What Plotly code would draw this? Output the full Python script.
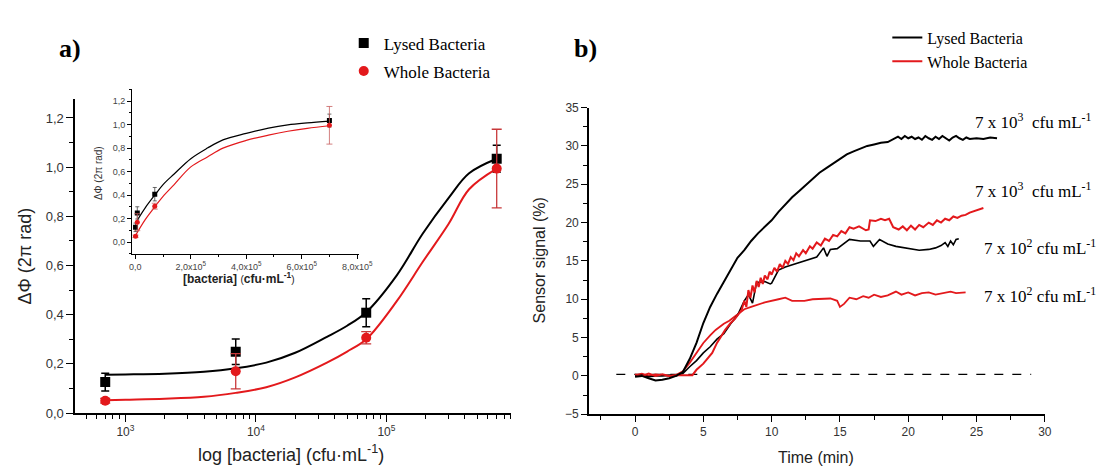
import plotly.graph_objects as go

# ---------------- Panel a data ----------------
conc = [7e2, 7e3, 7e4, 7e5]
lysed_y = [0.126, 0.249, 0.408, 1.034]
lysed_err = [0.036, 0.052, 0.057, 0.055]
whole_y = [0.050, 0.170, 0.306, 0.994]
whole_err = [0.010, 0.072, 0.025, 0.160]

# fitted curves (main, log axis)
fit_x = [7e2, 1e3, 2e3, 4e3, 7e3, 1.2e4, 2e4, 3.5e4, 5e4, 7e4, 1.2e5, 1.9e5, 3e5, 4.3e5, 7e5]
fit_lysed = [0.156, 0.157, 0.160, 0.168, 0.182, 0.205, 0.245, 0.310, 0.355, 0.410, 0.560, 0.730, 0.875, 0.975, 1.034]
fit_whole = [0.052, 0.054, 0.058, 0.066, 0.082, 0.105, 0.145, 0.205, 0.250, 0.300, 0.455, 0.615, 0.770, 0.910, 0.994]

# inset fitted curves (linear axis)
inset_fit_x = [0, 3.5e4, 7e4, 1e5, 1.4e5, 2e5, 2.6e5, 3.16e5, 4e5, 4.8e5, 5.5e5, 6.2e5, 7e5]
inset_fit_lysed = [0.160, 0.290, 0.400, 0.490, 0.580, 0.710, 0.800, 0.870, 0.925, 0.970, 0.998, 1.015, 1.030]
inset_fit_whole = [0.055, 0.190, 0.300, 0.390, 0.490, 0.640, 0.725, 0.800, 0.865, 0.910, 0.943, 0.968, 0.990]

# ---------------- Panel b data ----------------
t_lysed_hi = [0, 0.5, 1.0, 1.5, 2.0, 2.5, 3.0, 3.5, 4.0, 4.5, 5.0, 5.5, 6.0, 6.5, 7.0, 7.5, 8.0,
              8.5, 9.0, 9.5, 10, 10.5, 11, 11.5, 12, 12.5, 13, 13.5, 14, 14.5, 15, 15.5, 16, 16.5,
              17, 17.5, 18, 18.5, 19, 19.25, 19.5, 19.75, 20, 20.25, 20.5, 20.75, 21, 21.25, 21.5,
              21.75, 22, 22.25, 22.5, 22.75, 23, 23.25, 23.5, 23.75, 24, 24.25, 24.5, 25, 25.5, 26, 26.5]
v_lysed_hi = [-0.1, 0.0, -0.3, -0.6, -0.5, -0.3, 0.0, 0.5, 2.2, 4.3, 6.9, 9.0, 10.7, 12.3, 13.9,
              15.4, 16.4, 17.6, 18.6, 19.5, 20.3, 21.4, 22.4, 23.3, 24.1, 24.9, 25.7, 26.5, 27.1,
              27.7, 28.3, 28.9, 29.3, 29.7, 30.0, 30.2, 30.4, 30.5, 30.9, 31.2, 30.9, 31.3, 31.0,
              31.2, 30.9, 31.1, 30.8, 31.3, 31.0, 30.8, 31.2, 30.9, 31.3, 31.0, 30.7, 31.1, 31.3,
              31.0, 30.8, 31.1, 30.9, 31.0, 30.9, 31.1, 31.0]

t_whole_hi = [0, 0.5, 1.0, 1.5, 2.0, 2.5, 3.0, 3.5, 4.2, 4.5, 5.0, 5.65, 6.0, 6.6, 7.0, 7.3, 7.57,
              7.8, 8.0, 8.15, 8.3, 8.45, 8.6, 8.75, 8.9, 9.05, 9.2, 9.35, 9.5, 9.7, 9.85, 10.0, 10.2,
              10.4, 10.6, 10.8, 11.0, 11.2, 11.4, 11.6, 11.8, 12.0, 12.3, 12.5, 12.8, 13.0, 13.3,
              13.6, 13.9, 14.2, 14.5, 14.8, 15.1, 15.4, 15.7, 16.0, 16.4, 16.9, 17.1, 17.2, 17.6,
              18.0, 18.3, 18.6, 18.9, 19.3, 19.6, 19.9, 20.2, 20.5, 20.8, 21.1, 21.5, 21.8, 22.1,
              22.4, 22.7, 23.0, 23.3, 23.6, 23.9, 24.2, 24.5, 24.9, 25.2, 25.5]
v_whole_hi = [0.2, 0.0, 0.3, 0.0, 0.2, 0.0, 0.1, 0.1, 0.1, 0.8, 1.6, 3.0, 4.3, 6.0, 6.9, 7.4, 8.1,
              8.6, 9.8, 9.0, 11.2, 10.2, 11.8, 10.9, 12.4, 11.6, 12.8, 12.0, 13.1, 12.6, 13.6, 13.2,
              14.1, 13.6, 14.6, 14.1, 15.0, 14.6, 15.5, 15.1, 16.0, 15.6, 16.4, 16.0, 16.9, 16.6,
              17.4, 17.0, 17.9, 17.6, 18.4, 18.2, 18.9, 18.6, 19.4, 19.2, 19.5, 19.0, 19.1, 20.3,
              20.2, 20.5, 20.3, 20.5, 19.4, 19.1, 19.5, 19.0, 19.6, 19.1, 19.7, 19.4, 20.0, 19.7,
              20.3, 20.0, 20.5, 20.3, 20.8, 20.6, 20.9, 21.0, 21.3, 21.5, 21.7, 21.9]

t_lysed_lo = [0, 0.5, 1.0, 1.5, 2.0, 2.5, 3.0, 3.5, 4.0, 4.5, 5.0, 5.5, 6.0, 6.5, 7.0, 7.5, 8.0,
              8.3, 8.6, 8.9, 9.5, 9.9, 10.0, 10.5, 11.0, 11.9, 12.5, 13.3, 13.8, 14.05, 14.3,
              14.8, 15.7, 16.5, 17.2, 17.45, 17.9, 18.5, 19.1, 20.0, 20.8, 21.5, 22.0, 22.4, 22.7,
              22.9, 23.1, 23.3, 23.5, 23.7]
v_lysed_lo = [0.0, 0.1, -0.1, 0.0, 0.0, 0.1, 0.0, 0.3, 1.2, 2.0, 3.0, 3.8, 4.8, 5.5, 6.8, 7.9,
              9.8, 10.6, 9.5, 12.2, 12.3, 12.0, 12.1, 13.8, 14.2, 14.7, 15.0, 15.5, 16.7, 15.6,
              16.5, 16.6, 17.8, 17.6, 17.6, 16.9, 17.8, 17.2, 16.9, 16.6, 16.4, 16.5, 16.7, 17.0,
              17.4, 16.9, 17.6, 17.1, 17.8, 17.9]

t_whole_lo = [0, 0.5, 1.0, 1.5, 2.0, 2.5, 3.0, 3.5, 4.0, 4.65, 5.0, 5.5, 5.9, 6.5, 6.9, 7.5,
              8.0, 8.5, 9.0, 9.5, 10.5, 11.0, 11.5, 12.4, 13.0, 13.8, 14.3, 14.8, 15.0, 15.3,
              15.7, 16.2, 16.7, 17.1, 17.5, 18.0, 18.5, 19.1, 19.5, 20.0, 20.5, 21.0, 21.5, 22.0,
              22.7, 23.1, 23.5, 24.2]
v_whole_lo = [0.1, 0.3, 0.0, 0.2, 0.1, 0.0, 0.1, 0.6, 1.7, 3.5, 4.3, 5.3, 6.0, 6.8, 7.2, 8.0,
              8.7, 9.0, 9.3, 9.6, 10.0, 10.2, 9.8, 9.8, 10.0, 10.1, 10.1, 9.8, 9.0, 9.4, 10.2,
              10.0, 10.4, 10.2, 10.6, 10.3, 10.5, 11.0, 10.6, 10.9, 10.5, 10.8, 10.9, 10.6, 10.8,
              11.0, 10.8, 10.9]

baseline_t = [-1.37, 29.0]
baseline_v = [0.2, 0.2]

curve_labels = ["7 x 10<sup>3</sup>  cfu mL<sup>-1</sup>", "7 x 10<sup>3</sup>  cfu mL<sup>-1</sup>",
                "7 x 10<sup>2</sup> cfu mL<sup>-1</sup>", "7 x 10<sup>2</sup> cfu mL<sup>-1</sup>"]
curve_label_t = [24.75, 24.75, 25.4, 25.4]
curve_label_v = [33.3, 24.2, 16.8, 10.6]

RED = "#e3191c"
SANS = "Liberation Sans"
SERIF = "Liberation Serif"
W, H = 1116, 475

fig = go.Figure()

# ---- Panel a main ----
fig.add_trace(go.Scatter(x=fit_x, y=fit_lysed, mode="lines", line=dict(color="black", width=2, shape="spline"),
                         xaxis="x", yaxis="y", showlegend=False))
fig.add_trace(go.Scatter(x=fit_x, y=fit_whole, mode="lines", line=dict(color=RED, width=2, shape="spline"),
                         xaxis="x", yaxis="y", showlegend=False))
fig.add_trace(go.Scatter(x=conc, y=lysed_y, mode="markers", name="Lysed Bacteria", legendgroup="g1",
                         marker=dict(symbol="square", size=10, color="black"),
                         error_y=dict(type="data", array=lysed_err, color="black", thickness=1.5, width=4),
                         xaxis="x", yaxis="y", legend="legend"))
fig.add_trace(go.Scatter(x=conc, y=whole_y, mode="markers", name="Whole Bacteria", legendgroup="g2",
                         marker=dict(symbol="circle", size=10, color=RED),
                         error_y=dict(type="data", array=whole_err, color="#c8383a", thickness=1.3, width=5),
                         xaxis="x", yaxis="y", legend="legend"))

# ---- Inset ----
fig.add_trace(go.Scatter(x=inset_fit_x, y=inset_fit_lysed, mode="lines", line=dict(color="black", width=1.2, shape="spline"),
                         xaxis="x2", yaxis="y2", showlegend=False))
fig.add_trace(go.Scatter(x=inset_fit_x, y=inset_fit_whole, mode="lines", line=dict(color=RED, width=1.2, shape="spline"),
                         xaxis="x2", yaxis="y2", showlegend=False))
fig.add_trace(go.Scatter(x=conc, y=lysed_y, mode="markers", marker=dict(symbol="square", size=5, color="black"),
                         error_y=dict(type="data", array=lysed_err, color="#444", thickness=0.8, width=2),
                         xaxis="x2", yaxis="y2", showlegend=False))
fig.add_trace(go.Scatter(x=conc, y=whole_y, mode="markers", marker=dict(symbol="circle", size=5, color=RED),
                         error_y=dict(type="data", array=whole_err, color="#c86060", thickness=0.8, width=3),
                         xaxis="x2", yaxis="y2", showlegend=False))

# ---- Panel b ----
fig.add_trace(go.Scatter(x=baseline_t, y=baseline_v, mode="lines", line=dict(color="black", width=1.2, dash="dash"),
                         xaxis="x3", yaxis="y3", showlegend=False))
fig.add_trace(go.Scatter(x=t_whole_lo, y=v_whole_lo, mode="lines", line=dict(color=RED, width=1.8),
                         xaxis="x3", yaxis="y3", showlegend=False))
fig.add_trace(go.Scatter(x=t_lysed_lo, y=v_lysed_lo, mode="lines", line=dict(color="black", width=1.6),
                         xaxis="x3", yaxis="y3", showlegend=False))
fig.add_trace(go.Scatter(x=t_whole_hi, y=v_whole_hi, mode="lines", line=dict(color=RED, width=2),
                         xaxis="x3", yaxis="y3", name="Whole Bacteria", legend="legend2"))
fig.add_trace(go.Scatter(x=t_lysed_hi, y=v_lysed_hi, mode="lines", line=dict(color="black", width=2),
                         xaxis="x3", yaxis="y3", name="Lysed Bacteria", legend="legend2"))

axis_common = dict(showline=True, linecolor="black", ticks="outside", showgrid=False, zeroline=False,
                   tickcolor="black")

minor_log = [m * 10 ** k for k in (2, 3, 4, 5) for m in range(2, 10) if 4.2e2 < m * 10 ** k < 9.1e5]

fig.update_layout(
    width=W, height=H, margin=dict(l=0, r=0, t=0, b=0),
    paper_bgcolor="white", plot_bgcolor="white",
    separators=",.",
    xaxis=dict(**axis_common, type="log", range=[2.615, 5.956], domain=[0.0657, 0.4624], anchor="y",
               linewidth=1.6, ticklen=7, tickwidth=1.3,
               tickvals=[1e3, 1e4, 1e5], ticktext=["10<sup>3</sup>", "10<sup>4</sup>", "10<sup>5</sup>"],
               tickfont=dict(family=SANS, size=12, color="#333"),
               minor=dict(tickmode="array", tickvals=minor_log, ticks="outside", ticklen=4, tickcolor="black", tickwidth=1)),
    yaxis=dict(**axis_common, range=[0, 1.277], domain=[0.1173, 0.80], anchor="x",
               linewidth=1.6, ticklen=7, tickwidth=1.3, dtick=0.2, tick0=0, tickformat=".1f",
               tickfont=dict(family=SANS, size=13, color="#333"),
               minor=dict(dtick=0.1, ticks="outside", ticklen=4, tickcolor="black", tickwidth=1)),
    xaxis2=dict(**axis_common, range=[-1.2e4, 8.05e5], domain=[0.1174, 0.3235], anchor="y2",
                linewidth=1, ticklen=4, tickwidth=0.8,
                tickvals=[0, 2e5, 4e5, 6e5, 8e5],
                ticktext=["0,0", "2,0x10<sup>5</sup>", "4,0x10<sup>5</sup>", "6,0x10<sup>5</sup>", "8,0x10<sup>5</sup>"],
                tickfont=dict(family=SANS, size=9, color="#444"),
                minor=dict(tickmode="array", tickvals=[1e5, 3e5, 5e5, 7e5], ticks="outside", ticklen=2, tickcolor="black")),
    yaxis2=dict(**axis_common, range=[-0.1, 1.3], domain=[0.4632, 0.8211], anchor="x2",
                linewidth=1, ticklen=4, tickwidth=0.8, dtick=0.2, tick0=0, tickformat=".1f",
                tickfont=dict(family=SANS, size=9, color="#444"),
                minor=dict(dtick=0.1, ticks="outside", ticklen=2, tickcolor="black")),
    xaxis3=dict(**axis_common, range=[-3.37, 30], domain=[0.5332, 0.948], anchor="y3",
                linewidth=1.6, ticklen=6, tickwidth=1.3, dtick=5, tick0=0,
                tickfont=dict(family=SANS, size=12, color="#333"),
                minor=dict(dtick=5, tick0=2.5, ticks="outside", ticklen=4, tickcolor="black", tickwidth=1)),
    yaxis3=dict(**axis_common, range=[-5, 35], domain=[0.1147, 0.7813], anchor="x3",
                linewidth=1.6, ticklen=6, tickwidth=1.3, dtick=5, tick0=0,
                tickfont=dict(family=SANS, size=12, color="#333"),
                minor=dict(dtick=2.5, ticks="outside", ticklen=4, tickcolor="black", tickwidth=1)),
    legend=dict(x=346 / W, y=1 - 19 / H, xanchor="left", yanchor="top", bgcolor="rgba(0,0,0,0)",
                font=dict(family=SERIF, size=17, color="black"), itemwidth=30, tracegroupgap=3),
    legend2=dict(x=898 / W, y=1 - 14 / H, xanchor="left", yanchor="top", bgcolor="rgba(0,0,0,0)",
                 font=dict(family=SERIF, size=16, color="black"), itemwidth=30, traceorder="reversed"),
)

annotations = [
    dict(text="<b>a)</b>", x=68 / W, y=1 - 43 / H),
    dict(text="<b>b)</b>", x=592 / W, y=1 - 43 / H),
    dict(text="ΔΦ (2π rad)", x=22 / W, y=1 - 257 / H, textangle=-90),
    dict(text="log [bacteria] (cfu·mL<sup>-1</sup>)", x=292 / W, y=1 - 461 / H),
    dict(text="ΔΦ (2π rad)", x=97 / W, y=1 - 172 / H, textangle=-90),
    dict(text="<b>[bacteria]</b> <span style='font-size:10px'>(</span><b>cfu·mL<sup>-1</sup></b><span style='font-size:10px'>)</span>",
         x=240 / W, y=1 - 280 / H),
    dict(text="Time (min)", x=826 / W, y=1 - 465 / H),
    dict(text="Sensor signal (%)", x=545 / W, y=1 - 262 / H, textangle=-90),
]
fonts = [dict(family=SERIF, size=26, color="black"), dict(family=SERIF, size=26, color="black"),
         dict(family=SANS, size=18, color="#222"), dict(family=SANS, size=18, color="#222"),
         dict(family=SANS, size=10, color="#333"), dict(family=SANS, size=12, color="#222"),
         dict(family=SANS, size=16, color="#222"), dict(family=SANS, size=16, color="#222")]
for a, f in zip(annotations, fonts):
    a.update(xref="paper", yref="paper", xanchor="center", yanchor="middle", showarrow=False, font=f)

for txt, tx, ty in zip(curve_labels, curve_label_t, curve_label_v):
    annotations.append(dict(text=txt, x=tx, y=ty, xref="x3", yref="y3", xanchor="left", yanchor="middle",
                            showarrow=False, font=dict(family=SERIF, size=17, color="black")))
fig.update_layout(annotations=annotations)

fig.write_html("out.html")
